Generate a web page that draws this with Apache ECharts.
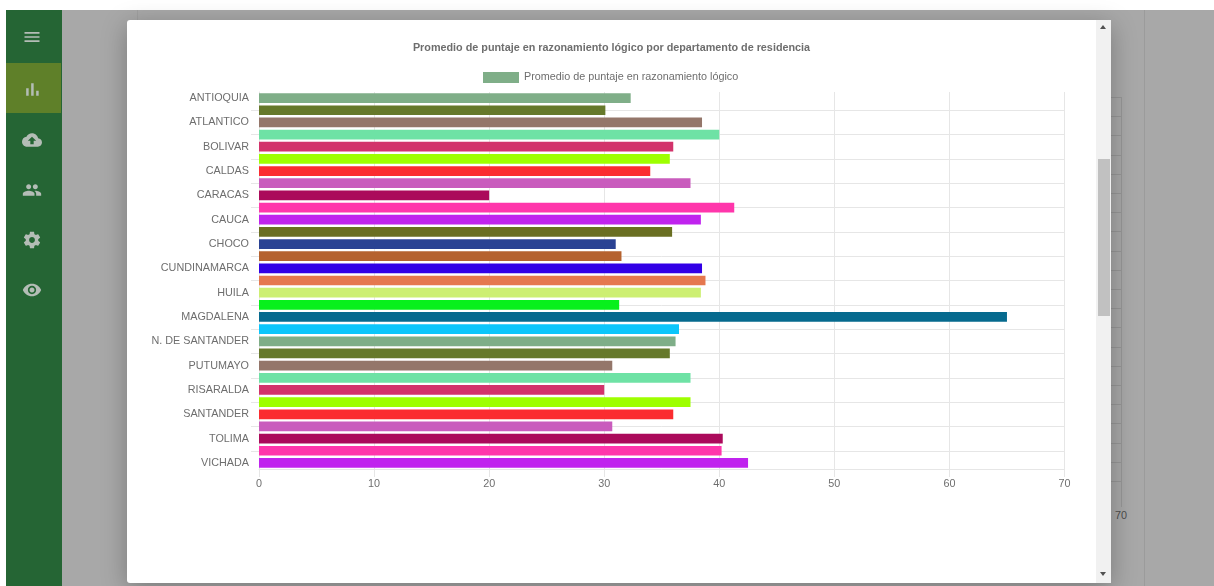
<!DOCTYPE html>
<html lang="es">
<head>
<meta charset="utf-8">
<title>Promedio de puntaje en razonamiento lógico</title>
<script src="https://cdn.jsdelivr.net/npm/echarts@6/dist/echarts.min.js"></script>
<style>
  html, body { margin: 0; padding: 0; width: 1214px; height: 586px; overflow: hidden; background: #fff; font-family: "Liberation Sans", Arial, sans-serif; }
  .backdrop { position: absolute; left: 6px; top: 10px; width: 1208px; height: 576px; background: #a8a8a8; overflow: hidden; }
  .sidebar { position: absolute; left: 6px; top: 10px; width: 56px; height: 576px; background: #256534; }
  .active-item { position: absolute; left: 6px; top: 63px; width: 55px; height: 50px; background: #5f8029; }
  .icon { position: absolute; left: 22px; width: 20px; height: 20px; fill: #b4bdb6; }
  .rule { position: absolute; left: 1144px; top: 10px; width: 1px; height: 576px; background: #9b9b9b; }
  .page-edge { position: absolute; left: 137px; top: 10px; width: 1px; height: 10px; background: #9f9f9f; }
  .behind-grid { position: absolute; left: 1111px; top: 97px; width: 10px; height: 403px;
    background: repeating-linear-gradient(to bottom, #979797 0, #979797 1px, transparent 1px, transparent 19.2px); }
  .behind-axis { position: absolute; left: 1121px; top: 97px; width: 1px; height: 410px; background: #979797; }
  .behind-label { position: absolute; left: 1115px; top: 509px; font-size: 10.8px; line-height: 13px; color: #4c4c4c; }
  .modal { position: absolute; left: 127px; top: 20px; width: 984px; height: 563px; background: #fff; border-radius: 3px 0 0 3px;
    box-shadow: 0 6px 26px rgba(0,0,0,.28); overflow: hidden; }
  #chart { position: absolute; left: 0; top: 0; width: 969px; height: 563px; }
  .scrollbar { position: absolute; left: 969px; top: 0; width: 15px; height: 563px; background: #f1f1f1; }
  .thumb { position: absolute; left: 2px; top: 139px; width: 12px; height: 157px; background: #c1c1c1; }
  .arrow { position: absolute; left: 4px; width: 0; height: 0; border-left: 3.5px solid transparent; border-right: 3.5px solid transparent; }
  .arrow.up { top: 5px; border-bottom: 4px solid #505050; }
  .arrow.down { bottom: 7px; border-top: 4px solid #505050; }
</style>
</head>
<body>
<div class="backdrop"></div>
<div class="rule"></div>
<div class="page-edge"></div>
<div class="behind-grid"></div>
<div class="behind-axis"></div>
<div class="behind-label">70</div>
<div class="sidebar"></div>
<div class="active-item"></div>
<svg class="icon" style="top:27px" viewBox="0 0 24 24"><path d="M3 18h18v-2H3v2zm0-5h18v-2H3v2zm0-7v2h18V6H3z"/></svg>
<svg class="icon" style="top:79px" viewBox="0 0 24 24"><path d="M5 20h3v-9H5v9zm6 0h3V5h-3v15zm6 0h3v-6h-3v6z"/></svg>
<svg class="icon" style="top:130px" viewBox="0 0 24 24"><path d="M19.35 10.04C18.67 6.59 15.64 4 12 4 9.11 4 6.6 5.64 5.35 8.04 2.34 8.36 0 10.91 0 14c0 3.31 2.69 6 6 6h13c2.76 0 5-2.24 5-5 0-2.64-2.05-4.78-4.65-4.96zM14 13v4h-4v-4H7l5-5 5 5h-3z"/></svg>
<svg class="icon" style="top:180px" viewBox="0 0 24 24"><path d="M16 11c1.66 0 2.99-1.34 2.99-3S17.66 5 16 5c-1.66 0-3 1.34-3 3s1.34 3 3 3zm-8 0c1.66 0 2.99-1.34 2.99-3S9.66 5 8 5C6.34 5 5 6.34 5 8s1.34 3 3 3zm0 2c-2.33 0-7 1.17-7 3.5V19h14v-2.5c0-2.33-4.67-3.5-7-3.5zm8 0c-.29 0-.62.02-.97.05 1.16.84 1.97 1.97 1.97 3.45V19h6v-2.5c0-2.33-4.67-3.5-7-3.5z"/></svg>
<svg class="icon" style="top:230px" viewBox="0 0 24 24"><path d="M19.43 12.98c.04-.32.07-.64.07-.98s-.03-.66-.07-.98l2.11-1.65c.19-.15.24-.42.12-.64l-2-3.46c-.12-.22-.39-.3-.61-.22l-2.49 1c-.52-.4-1.08-.73-1.69-.98l-.38-2.65C14.46 2.18 14.25 2 14 2h-4c-.25 0-.46.18-.49.42l-.38 2.65c-.61.25-1.17.59-1.69.98l-2.49-1c-.23-.09-.49 0-.61.22l-2 3.46c-.13.22-.07.49.12.64l2.11 1.65c-.04.32-.07.65-.07.98s.03.66.07.98l-2.11 1.65c-.19.15-.24.42-.12.64l2 3.46c.12.22.39.3.61.22l2.49-1c.52.4 1.08.73 1.69.98l.38 2.65c.03.24.24.42.49.42h4c.25 0 .46-.18.49-.42l.38-2.65c.61-.25 1.17-.59 1.69-.98l2.49 1c.23.09.49 0 .61-.22l2-3.46c.12-.22.07-.49-.12-.64l-2.11-1.65zM12 15.5c-1.93 0-3.5-1.57-3.5-3.5s1.57-3.5 3.5-3.5 3.5 1.57 3.5 3.5-1.57 3.5-3.5 3.5z"/></svg>
<svg class="icon" style="top:280px" viewBox="0 0 24 24"><path d="M12 4.5C7 4.5 2.73 7.61 1 12c1.73 4.39 6 7.5 11 7.5s9.27-3.11 11-7.5c-1.73-4.39-6-7.5-11-7.5zM12 17c-2.76 0-5-2.24-5-5s2.24-5 5-5 5 2.24 5 5-2.24 5-5 5zm0-8c-1.66 0-3 1.34-3 3s1.34 3 3 3 3-1.34 3-3-1.34-3-3-3z"/></svg>
<div class="modal">
  <div id="chart"></div>
  <div class="scrollbar">
    <div class="arrow up"></div>
    <div class="thumb"></div>
    <div class="arrow down"></div>
  </div>
</div>
<script>
// Departamentos, in the order they appear on the vertical axis
const departamentos = [
  'ANTIOQUIA', 'ARAUCA', 'ATLANTICO', 'BOGOTA', 'BOLIVAR', 'BOYACA', 'CALDAS', 'CAQUETA',
  'CARACAS', 'CASANARE', 'CAUCA', 'CESAR', 'CHOCO', 'CORDOBA', 'CUNDINAMARCA', 'GUAJIRA',
  'HUILA', 'GUAVIARE', 'MAGDALENA', 'META', 'N. DE SANTANDER', 'NARIÑO', 'PUTUMAYO', 'QUINDIO',
  'RISARALDA', 'SAN ANDRES', 'SANTANDER', 'SUCRE', 'TOLIMA', 'VALLE', 'VICHADA'
];

// Average logical-reasoning score per departamento
const promedios = [
  32.3, 30.1, 38.5, 40, 36, 35.7, 34, 37.5,
  20, 41.3, 38.4, 35.9, 31, 31.5, 38.5, 38.8,
  38.4, 31.3, 65, 36.5, 36.2, 35.7, 30.7, 37.5,
  30, 37.5, 36, 30.7, 40.3, 40.2, 42.5
];

// Bar colours; the palette restarts once it runs out
const paleta = [
  '#7fae88', '#66792b', '#94766a', '#6ee2a5', '#d2336b', '#9eff00', '#fb2c30', '#c95cbd',
  '#ab0a5b', '#ff36ab', '#c023ee', '#6a6f22', '#2a4293', '#b5622f', '#3200e6', '#e5784f',
  '#cdef72', '#08f01c', '#066a8e', '#0cc6fb'
];

const tituloGrafico = 'Promedio de puntaje en razonamiento lógico por departamento de residencia';
const nombreSerie = 'Promedio de puntaje en razonamiento lógico';
const textoEjes = '#6e6e6e';
const lineaGrid = '#e6e6e6';
const tamanoTexto = 10.8;

const chart = echarts.init(document.getElementById('chart'), null, { renderer: 'canvas' });
chart.setOption({
  animation: false,
  textStyle: { fontFamily: '"Liberation Sans", Arial, sans-serif' },
  title: {
    text: tituloGrafico,
    left: 'center',
    top: 18,
    textStyle: { fontSize: tamanoTexto, fontWeight: 'bold', color: textoEjes }
  },
  legend: {
    top: 47,
    left: 351,
    itemWidth: 36,
    itemHeight: 11,
    itemGap: 5,
    icon: 'rect',
    textStyle: { fontSize: tamanoTexto, color: textoEjes },
    data: [nombreSerie]
  },
  grid: { left: 132, top: 72, width: 805.5, height: 377, containLabel: false },
  xAxis: {
    type: 'value',
    min: 0,
    max: 70,
    interval: 10,
    axisLine: { show: true, lineStyle: { color: lineaGrid } },
    axisTick: { show: true, length: 8, lineStyle: { color: lineaGrid } },
    axisLabel: { fontSize: tamanoTexto, color: textoEjes, margin: 10 },
    splitLine: { show: true, lineStyle: { color: lineaGrid } }
  },
  yAxis: {
    type: 'category',
    inverse: true,
    data: departamentos,
    axisLine: { show: true, lineStyle: { color: lineaGrid } },
    axisTick: { show: true, length: 8, alignWithLabel: true, interval: i => i % 2 === 1, lineStyle: { color: lineaGrid } },
    axisLabel: { fontSize: tamanoTexto, color: textoEjes, interval: 1, margin: 10 },
    splitLine: { show: true, alignWithLabel: true, interval: i => i % 2 === 1, lineStyle: { color: lineaGrid } }
  },
  series: [{
    name: nombreSerie,
    type: 'bar',
    barWidth: '80%',
    itemStyle: { color: paleta[0] },
    data: promedios.map((valor, i) => ({
      value: valor,
      itemStyle: { color: paleta[i % paleta.length] }
    }))
  }]
});
</script>
</body>
</html>
